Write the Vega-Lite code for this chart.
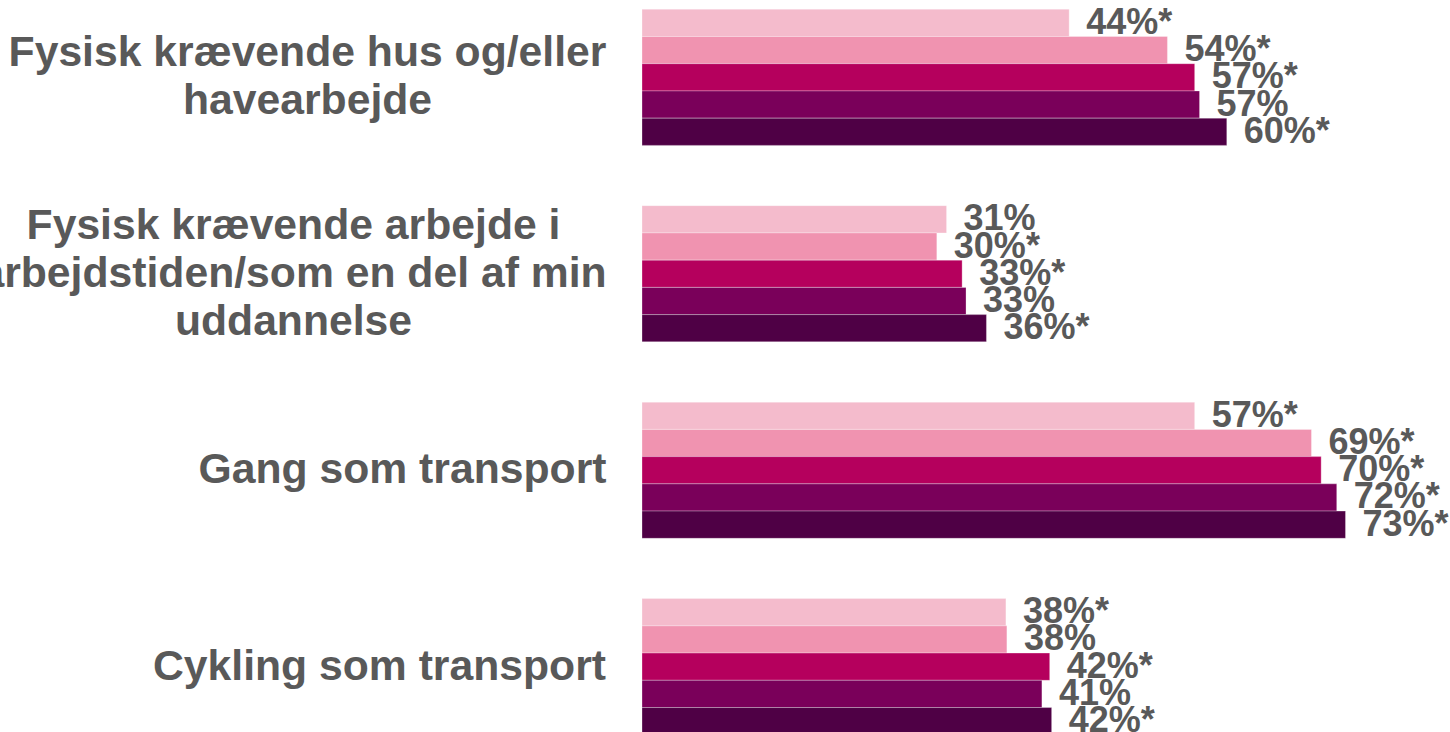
{
  "$schema": "https://vega.github.io/schema/vega-lite/v6.json",
  "autosize": {"type": "none"},
  "padding": {"left": 642, "top": 0, "right": 0, "bottom": 0},
  "width": 808,
  "height": 744,
  "background": "white",
  "config": {"view": {"stroke": null}},
  "data": {
    "values": [
      {"kategori": "Fysisk krævende hus og/eller\nhavearbejde", "serie": "Serie 1", "andel": 43.9, "etiket": "44%*"},
      {"kategori": "Fysisk krævende hus og/eller\nhavearbejde", "serie": "Serie 2", "andel": 54.0, "etiket": "54%*"},
      {"kategori": "Fysisk krævende hus og/eller\nhavearbejde", "serie": "Serie 3", "andel": 56.8, "etiket": "57%*"},
      {"kategori": "Fysisk krævende hus og/eller\nhavearbejde", "serie": "Serie 4", "andel": 57.3, "etiket": "57%"},
      {"kategori": "Fysisk krævende hus og/eller\nhavearbejde", "serie": "Serie 5", "andel": 60.1, "etiket": "60%*"},
      {"kategori": "Fysisk krævende arbejde i\narbejdstiden/som en del af min\nuddannelse", "serie": "Serie 1", "andel": 31.3, "etiket": "31%"},
      {"kategori": "Fysisk krævende arbejde i\narbejdstiden/som en del af min\nuddannelse", "serie": "Serie 2", "andel": 30.3, "etiket": "30%*"},
      {"kategori": "Fysisk krævende arbejde i\narbejdstiden/som en del af min\nuddannelse", "serie": "Serie 3", "andel": 32.9, "etiket": "33%*"},
      {"kategori": "Fysisk krævende arbejde i\narbejdstiden/som en del af min\nuddannelse", "serie": "Serie 4", "andel": 33.3, "etiket": "33%"},
      {"kategori": "Fysisk krævende arbejde i\narbejdstiden/som en del af min\nuddannelse", "serie": "Serie 5", "andel": 35.4, "etiket": "36%*"},
      {"kategori": "Gang som transport", "serie": "Serie 1", "andel": 56.8, "etiket": "57%*"},
      {"kategori": "Gang som transport", "serie": "Serie 2", "andel": 68.8, "etiket": "69%*"},
      {"kategori": "Gang som transport", "serie": "Serie 3", "andel": 69.8, "etiket": "70%*"},
      {"kategori": "Gang som transport", "serie": "Serie 4", "andel": 71.4, "etiket": "72%*"},
      {"kategori": "Gang som transport", "serie": "Serie 5", "andel": 72.3, "etiket": "73%*"},
      {"kategori": "Cykling som transport", "serie": "Serie 1", "andel": 37.4, "etiket": "38%*"},
      {"kategori": "Cykling som transport", "serie": "Serie 2", "andel": 37.5, "etiket": "38%"},
      {"kategori": "Cykling som transport", "serie": "Serie 3", "andel": 41.9, "etiket": "42%*"},
      {"kategori": "Cykling som transport", "serie": "Serie 4", "andel": 41.1, "etiket": "41%"},
      {"kategori": "Cykling som transport", "serie": "Serie 5", "andel": 42.1, "etiket": "42%*"}
    ]
  },
  "encoding": {
    "y": {
      "field": "kategori",
      "type": "nominal",
      "sort": null,
      "scale": {"paddingInner": 0.307, "paddingOuter": 0.047},
      "axis": {
        "title": null,
        "domain": false,
        "ticks": false,
        "tickSize": 0,
        "labelPadding": {
          "condition": [
            {"test": "datum.value == 'Gang som transport'", "value": 240},
            {"test": "datum.value == 'Cykling som transport'", "value": 263},
            {"test": "indexof(datum.value, 'hus') >= 0", "value": 335}
          ],
          "value": 349
        },
        "labelOffset": {
          "condition": [
            {"test": "indexof(datum.value, 'hus') >= 0", "value": -24},
            {"test": "indexof(datum.value, 'uddannelse') >= 0", "value": -48}
          ],
          "value": 0
        },
        "labelAlign": "center",
        "labelBaseline": "middle",
        "labelFont": "Liberation Sans",
        "labelFontSize": 42.7,
        "labelFontWeight": "bold",
        "labelColor": "#595959",
        "labelLineHeight": 48,
        "labelLimit": 2000,
        "labelExpr": "split(datum.label, '\\n')"
      }
    },
    "yOffset": {
      "field": "serie",
      "type": "nominal",
      "sort": null,
      "scale": {"paddingInner": 0, "paddingOuter": 0}
    },
    "x": {
      "field": "andel",
      "type": "quantitative",
      "scale": {"domain": [0, 83.04], "nice": false, "zero": true},
      "axis": null
    }
  },
  "layer": [
    {
      "mark": {"type": "bar", "stroke": "#ffffff", "strokeWidth": 0.5, "strokeOpacity": 0.6},
      "encoding": {
        "color": {
          "field": "serie",
          "type": "nominal",
          "sort": null,
          "scale": {"range": ["#F4BBCC", "#F093B0", "#B5005D", "#7A005A", "#4F0045"]},
          "legend": null
        }
      }
    },
    {
      "mark": {
        "type": "text",
        "align": "left",
        "baseline": "middle",
        "dx": 17,
        "font": "Liberation Sans",
        "fontSize": 36,
        "fontWeight": "bold",
        "color": "#595959"
      },
      "encoding": {
        "text": {"field": "etiket", "type": "nominal"}
      }
    }
  ]
}
